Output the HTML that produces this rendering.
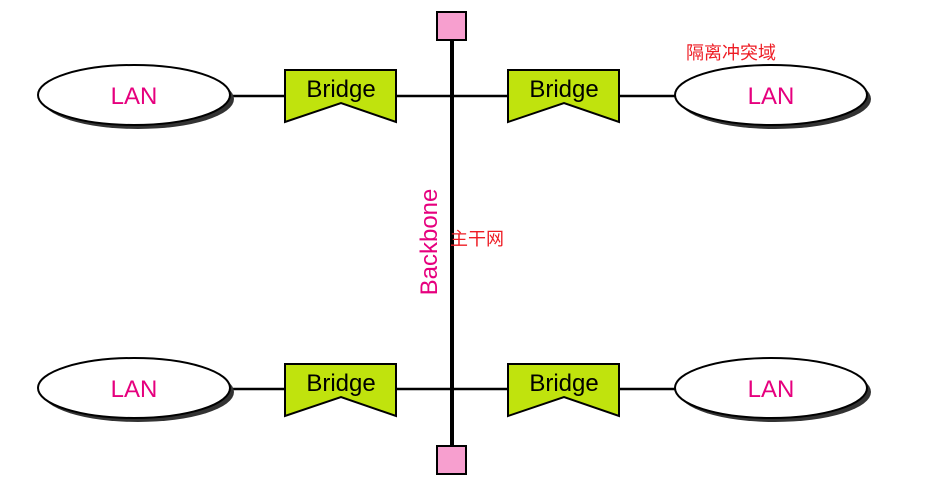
<!DOCTYPE html>
<html><head><meta charset="utf-8"><style>
body{margin:0;background:#fff;width:926px;height:497px;overflow:hidden}
</style></head><body>
<svg width="926" height="497" xmlns="http://www.w3.org/2000/svg" font-family="Liberation Sans, sans-serif">
<defs>
<g id="ell">
<ellipse cx="4" cy="4" rx="96" ry="30" fill="#333"/>
<ellipse cx="0" cy="0" rx="96" ry="30" fill="#fff" stroke="#000" stroke-width="2"/>
</g>
<polygon id="br" points="0,0 111,0 111,52 56,33 0,52" fill="#c0e30d" stroke="#000" stroke-width="2"/>
</defs>
<g stroke="#000" stroke-width="2.5">
<line x1="230" y1="96" x2="680" y2="96"/>
<line x1="230" y1="389" x2="680" y2="389"/>
</g>
<line x1="452" y1="40" x2="452" y2="446" stroke="#000" stroke-width="4"/>
<rect x="437" y="12" width="29" height="28" fill="#f79fcf" stroke="#000" stroke-width="2"/>
<rect x="437" y="446" width="29" height="28" fill="#f79fcf" stroke="#000" stroke-width="2"/>
<use href="#ell" x="134" y="95"/>
<use href="#ell" x="771" y="95"/>
<use href="#ell" x="134" y="388"/>
<use href="#ell" x="771" y="388"/>
<use href="#br" x="285" y="70"/>
<use href="#br" x="508" y="70"/>
<use href="#br" x="285" y="364"/>
<use href="#br" x="508" y="364"/>
<g fill="#e6007e" font-size="24" text-anchor="middle">
<text x="134" y="104">LAN</text><text x="771" y="104">LAN</text>
<text x="134" y="397">LAN</text><text x="771" y="397">LAN</text>
<text transform="translate(437,242) rotate(-90)">Backbone</text>
</g>
<g fill="#000" font-size="24" text-anchor="middle">
<text x="341" y="97">Bridge</text><text x="564" y="97">Bridge</text>
<text x="341" y="391">Bridge</text><text x="564" y="391">Bridge</text>
</g>
<g fill="#ee1c24" font-size="18" font-family="Liberation Sans, Noto Sans CJK SC, sans-serif">
<text x="450" y="245">主干网</text>
<text x="686" y="59">隔离冲突域</text>
</g>
</svg>
</body></html>
